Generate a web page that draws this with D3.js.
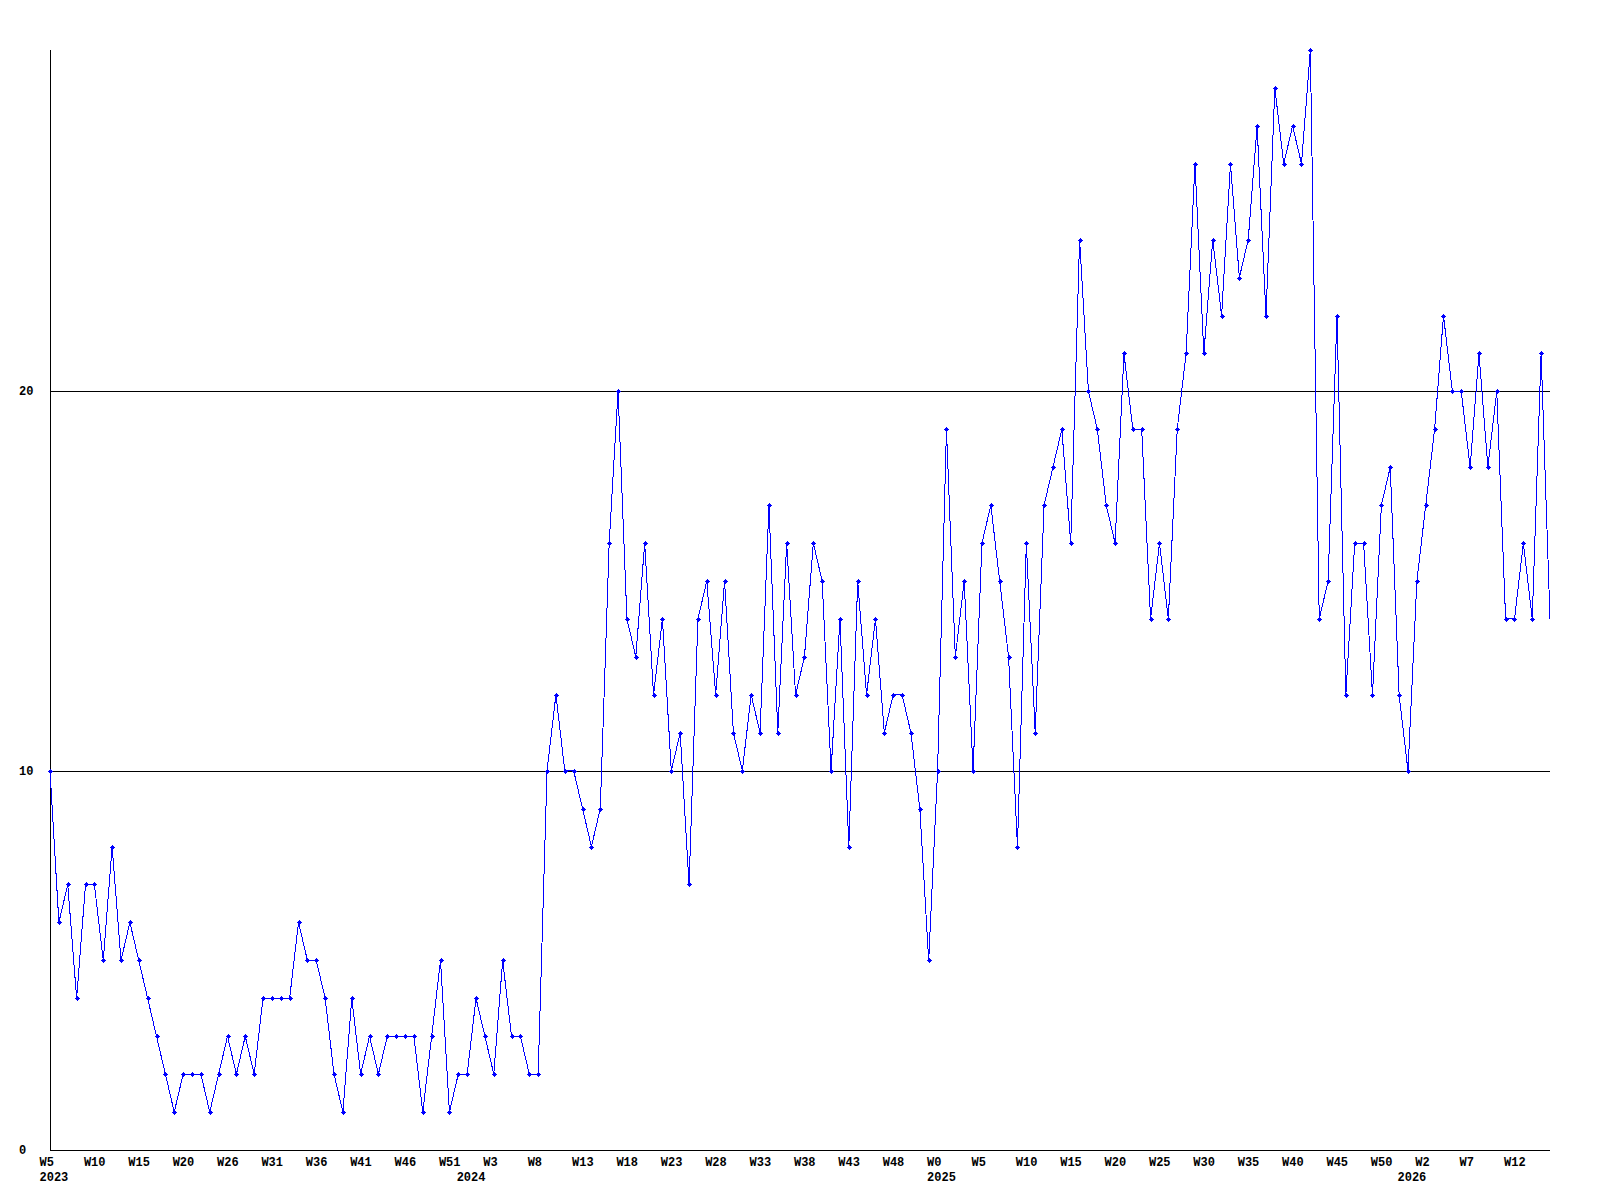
<!DOCTYPE html>
<html>
<head>
<meta charset="utf-8">
<script src="https://cdn.jsdelivr.net/npm/d3@7"></script>
<style>
  html, body { margin: 0; padding: 0; background: #fff; }
  svg { display: block; }
  text { font-family: "Liberation Mono", "DejaVu Sans Mono", monospace; font-weight: bold; font-size: 12px; fill: #000; }
</style>
</head>
<body>
<svg id="chart" width="1600" height="1200"></svg>
<script>
// Weekly values, 2023 W5 .. 2026 (170 weeks)
const values = [
  10,6,7,4,7,7,5,8,5,6,5,4,3,2,1,2,2,2,1,2,3,2,3,2,4,4,4,4,6,5,
  5,4,2,1,4,2,3,2,3,3,3,3,1,3,5,1,2,2,4,3,2,5,3,3,2,2,
  10,12,10,10,9,8,9,16,20,14,13,16,12,14,10,11,7,14,15,12,15,11,10,12,11,17,11,16,12,
  13,16,15,10,14,8,15,12,14,11,12,12,11,9,5,10,19,13,15,10,16,17,15,13,8,16,11,17,18,19,
  16,24,20,19,17,16,21,19,19,14,16,14,19,21,26,21,24,22,26,23,24,27,22,28,26,27,26,29,14,
  15,22,12,16,16,12,17,18,12,10,15,17,19,22,20,20,18,21,18,20,14,14,16,14,21,14
];
// Week tick labels, one every 5 points
const weekTicks = ["W5","W10","W15","W20","W26","W31","W36","W41","W46","W51","W3","W8",
  "W13","W18","W23","W28","W33","W38","W43","W48","W0","W5","W10","W15","W20","W25",
  "W30","W35","W40","W45","W50","W2","W7","W12"];
const tickEvery = 5;
const yearLabels = ["2023","2024","2025","2026"];
const yearStart = [0, 47, 100, 153];
const yTickValues = [0, 10, 20];
const gridValues = [10, 20];
const yMax = 29;

(function () {
  const svg = d3.select("#chart");
  const W = 1600, H = 1200;
  const pLeft = 50, pRight = 1550, pTop = 50, pBottom = 1150;

  const x = d3.scaleLinear().domain([0, values.length - 1]).range([pLeft, pRight]);
  const y = d3.scaleLinear().domain([0, yMax]).range([pBottom, pTop]);

  svg.append("rect").attr("width", W).attr("height", H).attr("fill", "#fff");

  // gridlines
  svg.selectAll("line.grid").data(gridValues).enter().append("line")
    .attr("class", "grid")
    .attr("x1", pLeft).attr("x2", pRight)
    .attr("y1", d => Math.round(y(d)) + 0.5).attr("y2", d => Math.round(y(d)) + 0.5)
    .attr("stroke", "#000").attr("stroke-width", 1).attr("shape-rendering", "crispEdges");

  // axes
  svg.append("line").attr("x1", pLeft + 0.5).attr("x2", pLeft + 0.5)
    .attr("y1", pTop).attr("y2", pBottom + 1)
    .attr("stroke", "#000").attr("shape-rendering", "crispEdges");
  svg.append("line").attr("x1", pLeft).attr("x2", pRight)
    .attr("y1", pBottom + 0.5).attr("y2", pBottom + 0.5)
    .attr("stroke", "#000").attr("shape-rendering", "crispEdges");

  // y labels
  svg.selectAll("text.ylab").data(yTickValues).enter().append("text")
    .attr("class", "ylab")
    .attr("x", 19).attr("y", d => y(d) + 4)
    .text(d => d);

  // x labels
  svg.selectAll("text.xlab").data(weekTicks).enter().append("text")
    .attr("class", "xlab")
    .attr("x", (d, i) => x(i * tickEvery) - 10.5)
    .attr("y", 1166)
    .text(d => d);

  svg.selectAll("text.year").data(yearLabels).enter().append("text")
    .attr("class", "year")
    .attr("x", (d, i) => x(yearStart[i]) - 10.5)
    .attr("y", 1181)
    .text(d => d);

  // line
  const line = d3.line().x((d, i) => x(i)).y(d => y(d));
  svg.append("path").datum(values)
    .attr("d", line)
    .attr("fill", "none")
    .attr("stroke", "#0000ff")
    .attr("stroke-width", 1)
    .attr("shape-rendering", "crispEdges");

  // markers (all but the last point)
  const mk = svg.append("g").attr("fill", "#0000ff").attr("shape-rendering", "crispEdges");
  values.slice(0, -1).forEach((v, i) => {
    const cx = Math.round(x(i)), cy = Math.round(y(v));
    mk.append("rect").attr("x", cx - 2).attr("y", cy).attr("width", 5).attr("height", 1);
    mk.append("rect").attr("x", cx).attr("y", cy - 2).attr("width", 1).attr("height", 5);
    mk.append("rect").attr("x", cx - 1).attr("y", cy - 1).attr("width", 3).attr("height", 3);
  });
})();
</script>
</body>
</html>
